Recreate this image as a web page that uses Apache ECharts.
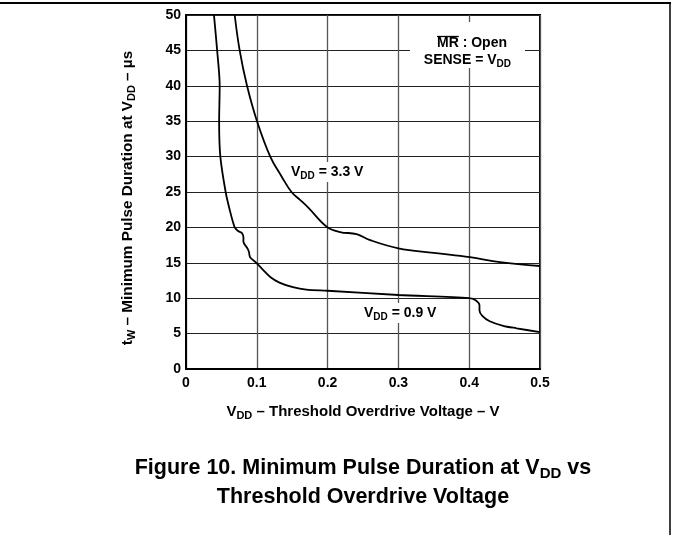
<!DOCTYPE html>
<html><head><meta charset="utf-8">
<script src="https://cdn.jsdelivr.net/npm/echarts@6/dist/echarts.min.js"></script>
<style>html,body{margin:0;padding:0;background:#fff}#c{width:673px;height:535px}</style>
</head><body><div id="c"></div>
<script>
// ---- data ----
const xTickValues = [0, 0.1, 0.2, 0.3, 0.4, 0.5];
const yTickValues = [0, 5, 10, 15, 20, 25, 30, 35, 40, 45, 50];
// V_DD = 0.9 V : [threshold overdrive voltage (V), min pulse duration (µs)]
const vdd09 = [
  [0.0395, 50], [0.044, 45], [0.0476, 40], [0.0468, 35], [0.0485, 30],
  [0.056, 25], [0.0617, 22.5], [0.0688, 20], [0.0735, 19.5], [0.0790, 19.2],
  [0.0812, 18.5], [0.0810, 18], [0.0870, 17], [0.0890, 16.5], [0.0905, 15.8],
  [0.0993, 15], [0.1088, 14], [0.119, 13], [0.132, 12.2], [0.151, 11.55],
  [0.170, 11.2], [0.2, 11.05], [0.3, 10.45], [0.400, 10.0], [0.409, 9.7],
  [0.4145, 9.0], [0.4145, 8.3], [0.4185, 7.5], [0.429, 6.75], [0.448, 6.1],
  [0.467, 5.75], [0.5, 5.2]
];
// V_DD = 3.3 V
const vdd33 = [
  [0.0688, 50], [0.0758, 45], [0.0862, 40], [0.1003, 35], [0.119, 30],
  [0.135, 27.2], [0.149, 25], [0.161, 23.9], [0.1727, 22.8], [0.1987, 20.1],
  [0.2175, 19.35], [0.241, 19.05], [0.26, 18.2], [0.30, 17.05], [0.35, 16.4],
  [0.401, 15.8], [0.4435, 15.1], [0.5, 14.55]
];
const curveLabels = ['0.9 V', '3.3 V'];

// ---- chart ----
const FONT = '"Liberation Sans", Arial, Helvetica, sans-serif';
const chart = echarts.init(document.getElementById('c'), null, {renderer: 'canvas'});

function subRich(size, lh) {
  return {
    b: {fontFamily: FONT, fontWeight: 'bold', fontSize: size, color: '#000', lineHeight: lh},
    s: {fontFamily: FONT, fontWeight: 'bold', fontSize: Math.round(size * 0.72), color: '#000', verticalAlign: 'bottom'}
  };
}

const ctx = document.createElement('canvas').getContext('2d');
ctx.font = 'bold 14px ' + FONT;
const mrW = ctx.measureText('MR').width;
const mrX = 437;

chart.setOption({
  animation: false,
  backgroundColor: '#fff',
  grid: {left: 186, right: 133, top: 15, bottom: 166, show: true, borderColor: '#000', borderWidth: 2, backgroundColor: 'transparent'},
  xAxis: {
    type: 'value', min: 0, max: 0.5, interval: 0.1,
    axisLine: {show: true, lineStyle: {color: '#000', width: 2}},
    axisTick: {show: false},
    splitLine: {show: true, lineStyle: {color: '#555', width: 1.3}},
    axisLabel: {color: '#000', fontFamily: FONT, fontWeight: 'bold', fontSize: 14, margin: 7},
    name: '{b|V}{s|DD}{b| – Threshold Overdrive Voltage – V}',
    nameLocation: 'middle', nameGap: 33,
    nameTextStyle: {rich: subRich(15, 19)}
  },
  yAxis: {
    type: 'value', min: 0, max: 50, interval: 5,
    axisLine: {show: true, lineStyle: {color: '#000', width: 2}},
    axisTick: {show: false},
    splitLine: {show: true, lineStyle: {color: '#222', width: 1}},
    axisLabel: {color: '#000', fontFamily: FONT, fontWeight: 'bold', fontSize: 14, margin: 5}
  },
  series: [
    {name: curveLabels[0], type: 'line', data: vdd09, showSymbol: false, smooth: 0.3,
     lineStyle: {color: '#000', width: 1.8}, z: 5},
    {name: curveLabels[1], type: 'line', data: vdd33, showSymbol: false, smooth: 0.4,
     lineStyle: {color: '#000', width: 1.8}, z: 5}
  ],
  graphic: [
    {type: 'line', shape: {x1: 0, y1: 3, x2: 671, y2: 3}, style: {stroke: '#000', lineWidth: 2}, z: 10},
    {type: 'line', shape: {x1: 670, y1: 3, x2: 670, y2: 535}, style: {stroke: '#000', lineWidth: 1.5}, z: 10},
    {type: 'text', x: 128, y: 198, rotation: Math.PI / 2, z: 10,
     style: {text: '{b|t}{s|W}{b| – Minimum Pulse Duration at V}{s|DD}{b| – µs}', rich: subRich(15.3, 19),
             align: 'center', verticalAlign: 'middle'}},
    {type: 'rect', shape: {x: 410, y: 22, width: 115, height: 46}, style: {fill: '#fff'}, z: 8},
    {type: 'text', x: mrX, y: 43, z: 10,
     style: {text: 'MR : Open', font: 'bold 14px ' + FONT, fill: '#000', align: 'left', verticalAlign: 'middle'}},
    {type: 'line', shape: {x1: mrX, y1: 36.5, x2: mrX + mrW, y2: 36.5}, style: {stroke: '#000', lineWidth: 1.3}, z: 10},
    {type: 'text', x: 511, y: 60, z: 10,
     style: {text: '{b|SENSE = V}{s|DD}', rich: subRich(14, 18), align: 'right', verticalAlign: 'middle'}},
    {type: 'text', x: 289, y: 172, z: 10,
     style: {text: '{b|V}{s|DD}{b| = ' + curveLabels[1] + '}', rich: subRich(14, 18), align: 'left', verticalAlign: 'middle',
             backgroundColor: '#fff', padding: [1, 2, 1, 2]}},
    {type: 'text', x: 362, y: 313, z: 10,
     style: {text: '{b|V}{s|DD}{b| = ' + curveLabels[0] + '}', rich: subRich(14, 18), align: 'left', verticalAlign: 'middle',
             backgroundColor: '#fff', padding: [1, 2, 1, 2]}},
    {type: 'text', x: 363, y: 468, z: 10,
     style: {text: '{b|Figure 10. Minimum Pulse Duration at V}{s|DD}{b| vs}', rich: subRich(21.5, 26), align: 'center', verticalAlign: 'middle'}},
    {type: 'text', x: 363, y: 497, z: 10,
     style: {text: 'Threshold Overdrive Voltage', font: 'bold 21.5px ' + FONT, fill: '#000', align: 'center', verticalAlign: 'middle'}}
  ]
});
</script></body></html>
